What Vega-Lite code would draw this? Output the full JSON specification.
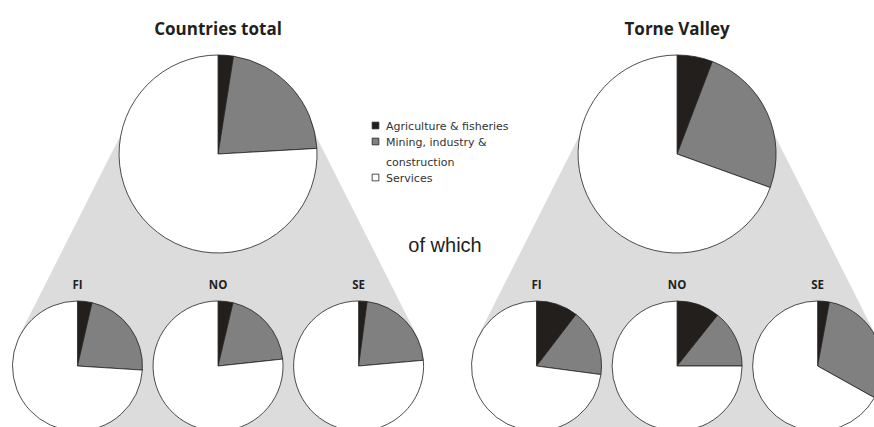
{
  "$schema": "https://vega.github.io/schema/vega-lite/v6.json",
  "width": 874,
  "height": 427,
  "padding": 0,
  "autosize": {"type": "none"},
  "background": "white",
  "config": {"view": {"stroke": null}},
  "data": {
    "values": [
      {"area": "Countries total", "level": "total", "country": "All", "sector": "Agriculture & fisheries", "share": 2.5},
      {"area": "Countries total", "level": "total", "country": "All", "sector": "Mining, industry & construction", "share": 21.6},
      {"area": "Countries total", "level": "total", "country": "All", "sector": "Services", "share": 75.9},
      {"area": "Torne Valley", "level": "total", "country": "All", "sector": "Agriculture & fisheries", "share": 5.8},
      {"area": "Torne Valley", "level": "total", "country": "All", "sector": "Mining, industry & construction", "share": 24.7},
      {"area": "Torne Valley", "level": "total", "country": "All", "sector": "Services", "share": 69.5},
      {"area": "Countries total", "level": "by country", "country": "FI", "sector": "Agriculture & fisheries", "share": 3.6},
      {"area": "Countries total", "level": "by country", "country": "FI", "sector": "Mining, industry & construction", "share": 22.4},
      {"area": "Countries total", "level": "by country", "country": "FI", "sector": "Services", "share": 74.0},
      {"area": "Countries total", "level": "by country", "country": "NO", "sector": "Agriculture & fisheries", "share": 3.7},
      {"area": "Countries total", "level": "by country", "country": "NO", "sector": "Mining, industry & construction", "share": 19.6},
      {"area": "Countries total", "level": "by country", "country": "NO", "sector": "Services", "share": 76.7},
      {"area": "Countries total", "level": "by country", "country": "SE", "sector": "Agriculture & fisheries", "share": 2.1},
      {"area": "Countries total", "level": "by country", "country": "SE", "sector": "Mining, industry & construction", "share": 21.5},
      {"area": "Countries total", "level": "by country", "country": "SE", "sector": "Services", "share": 76.4},
      {"area": "Torne Valley", "level": "by country", "country": "FI", "sector": "Agriculture & fisheries", "share": 10.4},
      {"area": "Torne Valley", "level": "by country", "country": "FI", "sector": "Mining, industry & construction", "share": 16.7},
      {"area": "Torne Valley", "level": "by country", "country": "FI", "sector": "Services", "share": 72.9},
      {"area": "Torne Valley", "level": "by country", "country": "NO", "sector": "Agriculture & fisheries", "share": 10.7},
      {"area": "Torne Valley", "level": "by country", "country": "NO", "sector": "Mining, industry & construction", "share": 14.3},
      {"area": "Torne Valley", "level": "by country", "country": "NO", "sector": "Services", "share": 75.0},
      {"area": "Torne Valley", "level": "by country", "country": "SE", "sector": "Agriculture & fisheries", "share": 2.9},
      {"area": "Torne Valley", "level": "by country", "country": "SE", "sector": "Mining, industry & construction", "share": 30.2},
      {"area": "Torne Valley", "level": "by country", "country": "SE", "sector": "Services", "share": 66.9}
    ]
  },
  "transform": [
    {"stack": "share", "groupby": ["area", "country"], "sort": [{"field": "sector", "order": "ascending"}], "offset": "normalize", "as": ["t0", "t1"]}
  ],
  "encoding": {
    "x": {
      "field": "area", "type": "nominal", "axis": null,
      "scale": {"type": "band", "domain": ["Countries total", "Torne Valley"], "paddingInner": 0.142, "paddingOuter": 0.023, "align": 1}
    },
    "y": {
      "field": "level", "type": "nominal", "axis": null,
      "scale": {"type": "point", "domain": ["apex", "total", "by country"], "range": [-58, 366], "padding": 0}
    }
  },
  "layer": [
    {
      "transform": [{"filter": "datum.level == 'total' && datum.sector == 'Services'"}],
      "mark": {"type": "arc", "theta": 2.674, "theta2": 3.609, "radius": 443, "radius2": 180, "fill": "#dcdcdc"},
      "encoding": {"y": {"datum": "apex", "type": "nominal"}}
    },
    {
      "transform": [{"filter": "datum.level == 'total' && datum.sector == 'Services'"}],
      "mark": {"type": "arc", "theta": 0, "theta2": 6.2832, "radius": 141, "fill": "#dcdcdc"},
      "encoding": {"y": {"datum": "by country", "type": "nominal"}}
    },
    {
      "transform": [{"filter": "datum.level == 'total'"}],
      "mark": {"type": "arc", "radius": 99, "stroke": "#231f20", "strokeWidth": 0.8},
      "encoding": {
        "theta": {"field": "t0", "type": "quantitative", "scale": {"domain": [0, 1]}, "stack": null},
        "theta2": {"field": "t1"},
        "color": {
          "field": "sector", "type": "nominal",
          "scale": {"domain": ["Agriculture & fisheries", "Mining, industry & construction", "Services"], "range": ["#231f1c", "#808080", "#ffffff"]},
          "legend": {
            "title": null, "orient": "none", "legendX": 370, "legendY": 120, "padding": 0,
            "symbolType": "square", "symbolSize": 45, "symbolStrokeColor": "#231f20", "symbolStrokeWidth": 0.8, "symbolOpacity": 1,
            "labelFont": "DejaVu Sans", "labelFontSize": 11, "labelColor": "#333333", "labelOffset": 5, "labelLimit": 200,
            "labelBaseline": "alphabetic", "rowPadding": 4,
            "labelExpr": "datum.label == 'Mining, industry & construction' ? ['Mining, industry &', 'construction'] : datum.label",
            "encoding": {"labels": {"dy": {"value": 4}, "lineHeight": {"value": 20}}}
          }
        }
      }
    },
    {
      "transform": [{"filter": "datum.level == 'by country'"}],
      "mark": {"type": "arc", "radius": 65, "stroke": "#231f20", "strokeWidth": 0.8},
      "encoding": {
        "xOffset": {"field": "country", "type": "nominal", "scale": {"type": "point", "domain": ["FI", "NO", "SE"], "padding": 0.401}},
        "theta": {"field": "t0", "type": "quantitative", "scale": {"domain": [0, 1]}, "stack": null},
        "theta2": {"field": "t1"},
        "color": {"field": "sector", "type": "nominal"}
      }
    },
    {
      "transform": [{"filter": "datum.level == 'total' && datum.sector == 'Services'"}],
      "mark": {"type": "text", "font": "Open Sans", "fontWeight": "bold", "fontSize": 17, "color": "#231f20", "baseline": "alphabetic", "dy": -119.5},
      "encoding": {"text": {"field": "area"}}
    },
    {
      "transform": [{"filter": "datum.level == 'by country' && datum.sector == 'Services'"}],
      "mark": {"type": "text", "font": "Open Sans", "fontWeight": "bold", "fontSize": 11.5, "color": "#231f20", "baseline": "alphabetic", "dy": -77.5},
      "encoding": {
        "xOffset": {"field": "country", "type": "nominal"},
        "text": {"field": "country"}
      }
    },
    {
      "transform": [{"filter": "datum.level == 'total' && datum.sector == 'Services' && datum.area == 'Countries total'"}],
      "mark": {"type": "text", "font": "Liberation Sans", "fontSize": 20, "color": "#231f20", "baseline": "alphabetic", "dx": 227, "dy": 97.5},
      "encoding": {"text": {"value": "of which"}}
    }
  ]
}
